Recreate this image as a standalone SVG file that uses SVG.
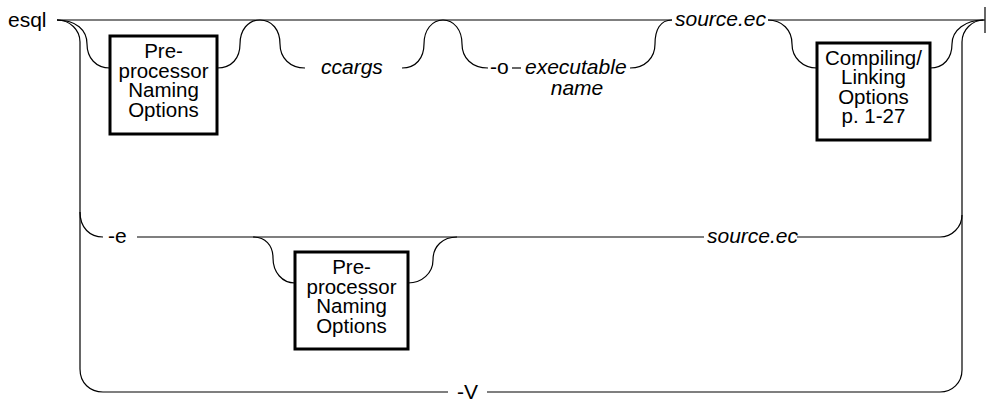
<svg xmlns="http://www.w3.org/2000/svg" width="989" height="405" viewBox="0 0 989 405">
  <style>
    .rail { fill: none; stroke: #000; stroke-width: 1.2; }
    .box { fill: #fff; stroke: #000; stroke-width: 3; }
    .kw { font-family: "Liberation Sans", Arial, sans-serif; font-size: 21px; fill: #000; }
    .var { font-family: "Liberation Sans", Arial, sans-serif; font-size: 21px; font-style: italic; fill: #000; }
    .bt { font-family: "Liberation Sans", Arial, sans-serif; font-size: 20.5px; fill: #000; text-anchor: middle; }
  </style>
  <rect width="989" height="405" fill="#fff"/>

  <!-- rails -->
  <g id="connectors">
    <!-- main line -->
    <path class="rail" d="M57,20 H672"/>
    <path class="rail" d="M768,20 H985"/>
    <path class="rail" d="M985,7 V33"/>
    <!-- outer loop: left vertical, -V line, right vertical -->
    <path class="rail" d="M57,20 C70,20 80,30 80,42 V369 C80,383 90,392 103,392 H448"/>
    <path class="rail" d="M487,392 H940 C952,392 962,383 962,370 V42 C962,30 972,20 984,20"/>
    <!-- optional preprocessor options (top row) -->
    <path class="rail" d="M57,20 C76,20 87,30 87,44 C87,58 96,68 110,68"/>
    <path class="rail" d="M217,68 C232,68 240,58 240,44 C240,30 248,20 260,20 C272,20 280,30 280,44 C280,58 290,68 305,68"/>
    <!-- ccargs / -o executable -->
    <path class="rail" d="M402,68 C416,68 424,58 424,44 C424,30 432,20 443,20 C454,20 462,30 462,44 C462,58 472,68 488,68"/>
    <path class="rail" d="M512,68 H521"/>
    <path class="rail" d="M630,68 C645,68 655,58 655,44 C655,30 660,20 672,20"/>
    <!-- compiling/linking options -->
    <path class="rail" d="M768,20 C782,20 792,30 792,44 C792,58 803,68 817,68"/>
    <path class="rail" d="M930,68 C944,68 952,58 952,44 C952,30 966,20 983,20"/>
    <!-- -e row -->
    <path class="rail" d="M80,212 C80,228 90,237 103,237"/>
    <path class="rail" d="M137,237 H704"/>
    <path class="rail" d="M797,237 H940 C952,237 962,227 962,215"/>
    <path class="rail" d="M253,237 C265,237 273,245 273,258 C273,272 282,283 295,283"/>
    <path class="rail" d="M408,283 C422,283 433,273 433,260 C433,246 443,237 457,237"/>
  </g>

  <text class="kw" x="8" y="27">esql</text>

  <g id="preproc-top">
    <rect class="box" x="110" y="36" width="107" height="98"/>
    <text class="bt"><tspan x="163.5" y="58">Pre-</tspan><tspan x="163.5" y="78">processor</tspan><tspan x="163.5" y="97">Naming</tspan><tspan x="163.5" y="117">Options</tspan></text>
  </g>

  <g id="ccargs">
    <text class="var" x="321" y="74">ccargs</text>
  </g>

  <g id="opt-o">
    <text class="kw" x="490" y="74">-o</text>
    <text class="var" x="525" y="74">executable</text>
    <text class="var" x="577" y="95" text-anchor="middle">name</text>
  </g>

  <g id="source-top">
    <text class="var" x="675" y="26">source.ec</text>
  </g>

  <g id="compile-link">
    <rect class="box" x="817" y="43" width="113" height="97"/>
    <text class="bt"><tspan x="873.5" y="65">Compiling/</tspan><tspan x="873.5" y="84">Linking</tspan><tspan x="873.5" y="104">Options</tspan><tspan x="873.5" y="123">p. 1-27</tspan></text>
  </g>

  <g id="opt-e">
    <text class="kw" x="108" y="243">-e</text>
  </g>

  <g id="preproc-e">
    <rect class="box" x="295" y="252" width="113" height="97"/>
    <text class="bt"><tspan x="351.5" y="274">Pre-</tspan><tspan x="351.5" y="294">processor</tspan><tspan x="351.5" y="313">Naming</tspan><tspan x="351.5" y="333">Options</tspan></text>
  </g>

  <g id="source-e">
    <text class="var" x="707" y="243">source.ec</text>
  </g>

  <g id="opt-V">
    <text class="kw" x="457" y="399">-V</text>
  </g>
</svg>
